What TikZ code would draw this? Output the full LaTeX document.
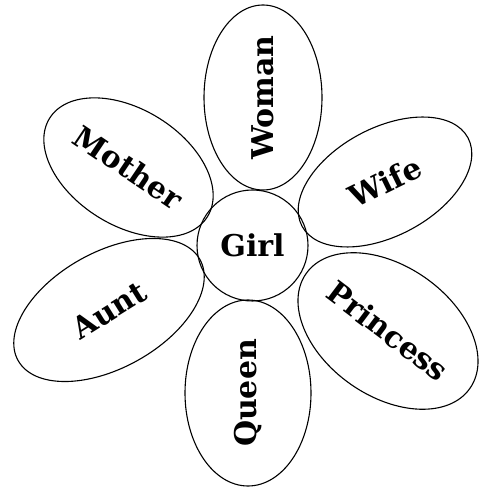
\documentclass[tikz,border=0pt]{standalone}
\usepackage{fontspec}
\setmainfont{DejaVu Serif}
\usetikzlibrary{shapes.geometric}
\begin{document}
\begin{tikzpicture}[x=1pt,y=1pt,
  lbl/.style={font=\bfseries\fontsize{30}{32}\selectfont},
  petal/.style={draw, ellipse, line width=1.1pt, inner sep=0pt, lbl},
  hub/.style={draw, circle, line width=1.1pt, inner sep=0pt, minimum size=111pt, lbl}]
\useasboundingbox (0,0) rectangle (480,490);
\node[hub] (girl) at (252.5,244.5) {\makebox[0pt]{Girl}};
\node[petal, minimum width=185pt, minimum height=118pt, rotate=90] (woman) at (263,392.5) {\makebox[0pt]{Woman}};
\node[petal, minimum width=186pt, minimum height=116pt, rotate=-32] (mother) at (128.5,322.5) {\makebox[0pt]{\rotatebox{-2}{Mother}}};
\node[petal, minimum width=188pt, minimum height=108pt, rotate=28] (wife) at (385,308) {\makebox[0pt]{\rotatebox{-2}{Wife}}};
\node[petal, minimum width=208pt, minimum height=116pt, rotate=29] (aunt) at (109,180) {\makebox[0pt]{\rotatebox{3}{Aunt}}};
\node[petal, minimum width=200pt, minimum height=130pt, rotate=-35] (princess) at (388,159) {\makebox[0pt]{\rotatebox{-2}{Princess}}};
\node[petal, minimum width=186pt, minimum height=126pt, rotate=90] (queen) at (248,97) {\makebox[0pt]{Queen}};
\end{tikzpicture}
\end{document}
